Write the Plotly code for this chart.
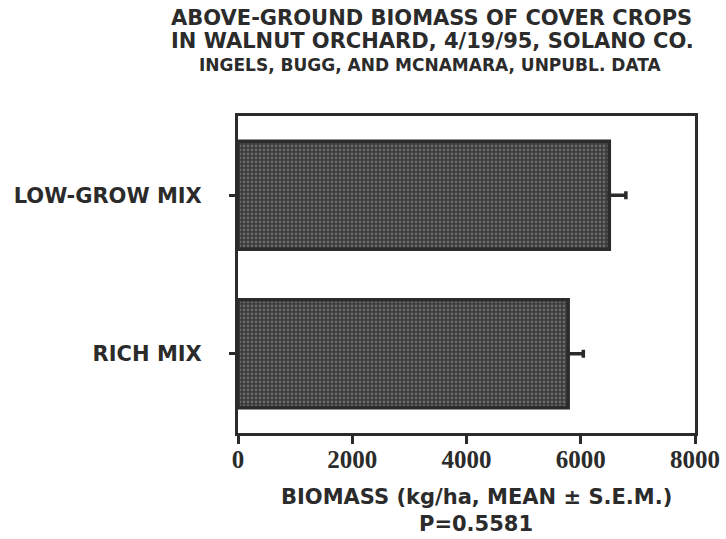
import plotly.graph_objects as go

categories = ["LOW-GROW MIX", "RICH MIX"]
biomass_mean = [6500, 5780]
biomass_sem = [290, 265]
x_ticks = [0, 2000, 4000, 6000, 8000]

title_lines = [
    "ABOVE-GROUND BIOMASS OF COVER CROPS",
    "IN WALNUT ORCHARD, 4/19/95, SOLANO CO.",
    "INGELS, BUGG, AND MCNAMARA, UNPUBL. DATA",
]
x_title_lines = ["BIOMASS (kg/ha, MEAN ± S.E.M.)", "P=0.5581"]

INK = "#2b2b2b"
SANS = "DejaVu Sans, Liberation Sans, Arial, sans-serif"

fig = go.Figure()
fig.add_trace(go.Bar(
    y=categories,
    x=biomass_mean,
    orientation="h",
    width=0.68,
    marker=dict(
        color="#444444",
        line=dict(color=INK, width=3.5),
        pattern=dict(shape=".", fgcolor="#9a9a9a", bgcolor="#3a3a3a", size=4, solidity=0.4),
    ),
    error_x=dict(type="data", symmetric=False, array=biomass_sem, arrayminus=[0, 0],
                 color=INK, thickness=3.5, width=4),
    showlegend=False,
))

H, W = 539, 726
ML, MR, MT, MB = 238, 31, 116, 106
PW, PH = W - ML - MR, H - MT - MB

title_specs = [(title_lines[0], 431, 18, 21), (title_lines[1], 432, 41, 21), (title_lines[2], 430, 65, 17)]
for txt, px, py, size in title_specs:
    fig.add_annotation(
        text="<b>" + txt + "</b>", xref="paper", yref="paper",
        x=(px - ML) / PW, y=1 + (MT - py) / PH,
        xanchor="center", yanchor="middle", showarrow=False,
        font=dict(family=SANS, size=size, color=INK),
    )
for txt, py, size in [(x_title_lines[0], 497, 21), (x_title_lines[1], 524, 21)]:
    fig.add_annotation(
        text="<b>" + txt + "</b>", xref="paper", yref="paper",
        x=(476 - ML) / PW, y=(H - MB - py) / PH,
        xanchor="center", yanchor="middle", showarrow=False,
        font=dict(family=SANS, size=size, color=INK),
    )

fig.update_layout(
    width=W, height=H,
    margin=dict(l=ML, r=MR, t=MT, b=MB),
    paper_bgcolor="white", plot_bgcolor="white",
    font=dict(family=SANS, color=INK),
    xaxis=dict(
        range=[0, 8000], tickvals=x_ticks, ticktext=[str(v) for v in x_ticks],
        ticks="outside", ticklen=8, tickwidth=3, tickcolor=INK,
        showline=True, linecolor=INK, linewidth=3, mirror=True,
        showgrid=False, zeroline=False, automargin=False,
        tickfont=dict(family="Liberation Serif, Times New Roman, serif", size=25, color=INK, weight="bold"),
        ticklabelstandoff=-6,
    ),
    yaxis=dict(
        categoryorder="array", categoryarray=categories[::-1],
        range=[-0.5, 1.5],
        ticks="outside", ticklen=6, tickwidth=3, tickcolor=INK,
        showline=True, linecolor=INK, linewidth=3, mirror=True,
        showgrid=False, zeroline=False, automargin=False,
        tickfont=dict(family=SANS, size=21, color=INK, weight="bold"),
        ticklabelstandoff=23,
    ),
)

fig.write_html("out.html")
